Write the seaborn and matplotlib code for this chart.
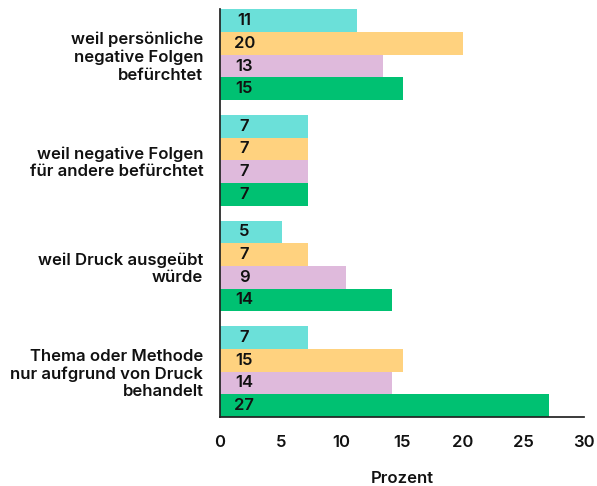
import pandas as pd
import seaborn as sns
import matplotlib.pyplot as plt

# categories (y axis) and the four series
categories = [
    "weil persönliche\nnegative Folgen\nbefürchtet",
    "weil negative Folgen\nfür andere befürchtet",
    "weil Druck ausgeübt\nwürde",
    "Thema oder Methode\nnur aufgrund von Druck\nbehandelt",
]
series = ["Serie 1", "Serie 2", "Serie 3", "Serie 4"]
colors = ["#6be0d9", "#ffd27f", "#dfbadc", "#00c172"]

# bar lengths
s1 = [11.3, 7.25, 5.1, 7.25]
s2 = [20.0, 7.25, 7.25, 15.1]
s3 = [13.4, 7.25, 10.4, 14.2]
s4 = [15.1, 7.25, 14.2, 27.1]

# printed labels
l1 = [11, 7, 5, 7]
l2 = [20, 7, 7, 15]
l3 = [13, 7, 9, 14]
l4 = [15, 7, 14, 27]

rows = []
for name, vals, labs in zip(series, [s1, s2, s3, s4], [l1, l2, l3, l4]):
    for cat, v, lab in zip(categories, vals, labs):
        rows.append({"Kategorie": cat, "Serie": name, "Wert": v, "Label": lab})
df = pd.DataFrame(rows)

sns.set_theme(style="white")
plt.rcParams["font.family"] = ["Inter", "DejaVu Sans"]
plt.rcParams["text.color"] = "#111111"
plt.rcParams["xtick.color"] = "#111111"
plt.rcParams["ytick.color"] = "#111111"
plt.rcParams["axes.labelcolor"] = "#111111"

fig = plt.figure(figsize=(5.97, 4.86), dpi=100)
ax = fig.add_axes([0.3685, 0.142, 0.6095, 0.839])

sns.barplot(data=df, y="Kategorie", x="Wert", hue="Serie", orient="h",
            palette=colors, width=0.86, gap=0, saturation=1, linewidth=0,
            errorbar=None, legend=False, ax=ax)

# value labels inside the bars
for container, name in zip(ax.containers, series):
    labs = df[df["Serie"] == name]["Label"].tolist()
    for bar, lab in zip(container, labs):
        ax.text(2.0, bar.get_y() + bar.get_height() / 2, str(lab),
                ha="center", va="center", fontsize=12, fontweight="semibold",
                color="#111111")

ax.set_xlim(0, 30)
ax.set_ylim(3.43, -0.43)
ax.set_xticks(range(0, 31, 5))
ax.set_xlabel("Prozent", fontsize=12, fontweight="semibold", labelpad=15)
ax.set_ylabel("")
ax.tick_params(axis="x", length=5, width=1, labelsize=12, pad=8, color="#222222")
ax.tick_params(axis="y", length=0, labelsize=12, pad=12)
for lab in ax.get_yticklabels():
    lab.set_fontweight("semibold")
    lab.set_horizontalalignment("right")
    lab.set_multialignment("right")
for lab in ax.get_xticklabels():
    lab.set_fontweight("semibold")

sns.despine(ax=ax, top=True, right=True)
ax.spines["left"].set_color("#222222")
ax.spines["bottom"].set_color("#222222")

fig.savefig("out.png", dpi=100)
